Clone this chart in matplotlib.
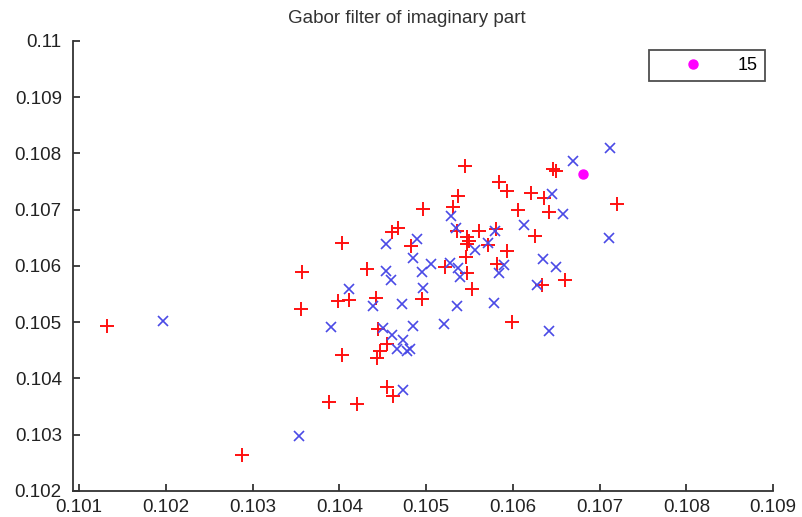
import numpy as np
import matplotlib
matplotlib.use('Agg')
import matplotlib.pyplot as plt

plt.rcParams['font.family'] = ['Liberation Sans', 'DejaVu Sans']

# Class 1 feature pairs (red plus)
red_x = [0.101323, 0.102879, 0.103571, 0.103559, 0.103882, 0.104205, 0.104032,
         0.103986, 0.104112, 0.104320, 0.104424, 0.104032, 0.104447, 0.104550,
         0.104470, 0.104435, 0.104550, 0.104620, 0.104677, 0.104608, 0.104827,
         0.104954, 0.104965, 0.105311, 0.105369, 0.105450, 0.105357, 0.105473,
         0.105496, 0.105473, 0.105611, 0.105461, 0.105219, 0.105473, 0.105530,
         0.105715, 0.105807, 0.105841, 0.105934, 0.106210, 0.106360, 0.106061,
         0.106418, 0.106256, 0.105934, 0.105818, 0.106464, 0.106499, 0.107202,
         0.106602, 0.106337, 0.105991]
red_y = [0.104933, 0.102640, 0.105893, 0.105236, 0.103582, 0.103547, 0.106409,
         0.105378, 0.105396, 0.105947, 0.105431, 0.104418, 0.104880, 0.104613,
         0.104489, 0.104364, 0.103849, 0.103689, 0.106676, 0.106604, 0.106356,
         0.105413, 0.107013, 0.107049, 0.107244, 0.107778, 0.106622, 0.106516,
         0.106444, 0.106391, 0.106622, 0.106160, 0.105982, 0.105876, 0.105591,
         0.106373, 0.106658, 0.107493, 0.107333, 0.107298, 0.107209, 0.106996,
         0.106960, 0.106533, 0.106267, 0.106036, 0.107724, 0.107689, 0.107102,
         0.105751, 0.105662, 0.105004]

# Class 2 feature pairs (blue cross)
blue_x = [0.101968, 0.103536, 0.103905, 0.104112, 0.104389, 0.104504, 0.104539,
          0.104597, 0.104608, 0.104666, 0.104735, 0.104781, 0.104816, 0.104735,
          0.104850, 0.104850, 0.104954, 0.105058, 0.104965, 0.104723, 0.105207,
          0.105357, 0.105392, 0.105369, 0.105277, 0.105288, 0.104896, 0.104539,
          0.105346, 0.105565, 0.105795, 0.105715, 0.105784, 0.105899, 0.105841,
          0.106130, 0.106349, 0.106499, 0.106280, 0.106418, 0.106452, 0.106579,
          0.106695, 0.107121, 0.107110]
blue_y = [0.105022, 0.102978, 0.104916, 0.105591, 0.105289, 0.104898, 0.105911,
          0.105751, 0.104773, 0.104524, 0.104684, 0.104489, 0.104524, 0.103796,
          0.104933, 0.106142, 0.105893, 0.106036, 0.105609, 0.105324, 0.104969,
          0.105289, 0.105804, 0.105964, 0.106053, 0.106889, 0.106480, 0.106391,
          0.106676, 0.106284, 0.106622, 0.106409, 0.105342, 0.106018, 0.105876,
          0.106729, 0.106124, 0.105982, 0.105662, 0.104844, 0.107280, 0.106924,
          0.107867, 0.108098, 0.106498]

# Query sample
query_x = [0.106810]
query_y = [0.107636]
query_label = '15'

fig = plt.figure(figsize=(8.02, 5.17), dpi=100)
ax = fig.add_axes([0.091, 0.0503, 0.873, 0.8704])

ax.plot(red_x, red_y, '+', color='#ff1010', markersize=10, markeredgewidth=1.4)
ax.plot(blue_x, blue_y, 'x', color='#4a4ae6', markersize=6.5, markeredgewidth=1.2)
ax.plot(query_x, query_y, 'o', color='#ff00ff', markersize=6.5, label=query_label)

ax.set_xlim(0.1009308, 0.109)
ax.set_ylim(0.102, 0.110)
ax.set_xticks(np.arange(0.101, 0.1091, 0.001))
ax.set_yticks(np.arange(0.102, 0.1101, 0.001))
ax.set_xticklabels(['0.101', '0.102', '0.103', '0.104', '0.105',
                    '0.106', '0.107', '0.108', '0.109'])
ax.set_yticklabels(['0.102', '0.103', '0.104', '0.105', '0.106',
                    '0.107', '0.108', '0.109', '0.11'])
ax.tick_params(direction='in', length=5, width=1.2, labelsize=13.5, colors='#222222')
ax.tick_params(axis='y', pad=8)
ax.tick_params(axis='x', pad=6)
ax.spines['top'].set_visible(False)
ax.spines['right'].set_visible(False)
for s in ('left', 'bottom'):
    ax.spines[s].set_linewidth(1.3)
    ax.spines[s].set_color('#333333')

ax.set_title('Gabor filter of imaginary part', fontsize=13.5, color='#333333',
             pad=13, x=0.477)

leg = ax.legend(loc='upper right', bbox_to_anchor=(0.9886, 0.98), borderaxespad=0,
                fancybox=False, edgecolor='#222222', fontsize=13,
                handlelength=4.0, handletextpad=0.5, borderpad=0.4,
                numpoints=1)
leg.get_frame().set_linewidth(1.3)

fig.savefig('out.png', dpi=100)
